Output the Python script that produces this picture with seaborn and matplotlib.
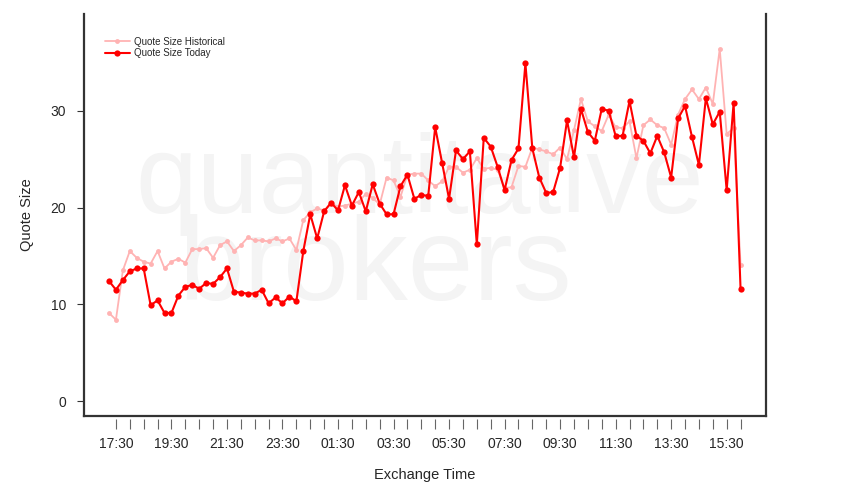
import matplotlib
matplotlib.use("Agg")
import matplotlib.pyplot as plt
import pandas as pd
import seaborn as sns

# Quote sizes every 15 minutes, 17:15 to 16:00 next day
start = "2014-01-06 17:15"
today = [12.4, 11.5, 12.5, 13.4, 13.7, 13.7, 9.9, 10.4, 9.1, 9.1,
         10.9, 11.8, 12.0, 11.6, 12.2, 12.1, 12.8, 13.7, 11.3, 11.2,
         11.1, 11.1, 11.5, 10.1, 10.7, 10.1, 10.8, 10.3, 15.5, 19.3,
         16.8, 19.6, 20.5, 19.7, 22.3, 20.2, 21.6, 19.6, 22.4, 20.4,
         19.3, 19.3, 22.2, 23.4, 20.9, 21.3, 21.2, 28.3, 24.6, 20.9,
         25.9, 25.0, 25.8, 16.2, 27.2, 26.3, 24.2, 21.8, 24.9, 26.1,
         34.9, 26.1, 23.1, 21.5, 21.6, 24.1, 29.0, 25.2, 30.2, 27.8,
         26.9, 30.2, 30.0, 27.4, 27.4, 31.0, 27.4, 26.9, 25.6, 27.4,
         25.7, 23.1, 29.2, 30.5, 27.3, 24.4, 31.3, 28.6, 29.9, 21.8,
         30.8, 11.6]
historical = [9.1, 8.4, 13.5, 15.5, 14.8, 14.4, 14.2, 15.5, 13.7, 14.4,
              14.7, 14.3, 15.7, 15.7, 15.8, 14.8, 16.1, 16.5, 15.5, 16.1,
              16.9, 16.6, 16.6, 16.5, 16.8, 16.5, 16.8, 15.6, 18.7, 19.5,
              19.9, 19.7, 20.4, 20.1, 20.2, 20.4, 20.6, 21.4, 21.0, 20.3,
              23.1, 22.8, 21.1, 23.4, 23.5, 23.5, 22.8, 22.2, 22.7, 24.2,
              24.2, 23.6, 23.9, 25.1, 24.0, 24.1, 23.9, 22.0, 22.1, 24.3,
              24.2, 26.2, 26.0, 25.8, 25.5, 26.2, 25.0, 28.0, 31.2, 28.9,
              28.4, 27.9, 29.6, 28.3, 28.2, 28.9, 25.1, 28.5, 29.1, 28.5,
              28.2, 26.5, 29.6, 31.2, 32.2, 31.2, 32.4, 30.7, 36.4, 27.6,
              28.2, 14.1]
y_ticks = [0, 10, 20, 30]

times = pd.date_range(start, periods=len(today), freq="15min")
df = pd.DataFrame({"time": times, "Quote Size Historical": historical,
                   "Quote Size Today": today})

sns.set_style("white")
plt.rcParams["font.family"] = ["Liberation Sans", "DejaVu Sans"]

fig = plt.figure(figsize=(8.5, 5), dpi=100)
ax = fig.add_axes([84 / 850, 84 / 500, 682 / 850, 402 / 500])

# watermark, behind the lines
ax.text(0.494, 0.575, "quantitative", fontsize=80, color="#f4f4f4",
        ha="center", va="baseline", zorder=0, transform=fig.transFigure)
ax.text(0.441, 0.40, "brokers", fontsize=85, color="#f4f4f4",
        ha="center", va="baseline", zorder=0, transform=fig.transFigure)

sns.lineplot(data=df, x="time", y="Quote Size Historical", ax=ax, color="#ffb3b3",
             marker="o", markersize=3.5, markeredgewidth=0, linewidth=1.3,
             label="Quote Size Historical", zorder=3)
sns.lineplot(data=df, x="time", y="Quote Size Today", ax=ax, color="#ff0000",
             marker="o", markersize=4.5, markeredgewidth=0, linewidth=1.5,
             label="Quote Size Today", zorder=4)

ax.set_ylim(-1.55, 40)
ax.set_xlim(times[0] - pd.Timedelta(minutes=54), times[0] + pd.Timedelta(minutes=1420))
ax.set_yticks(y_ticks)
ax.set_yticklabels([str(v) for v in y_ticks])

xt = pd.date_range(times[1], times[-1], freq="30min")
ax.set_xticks(xt)
ax.set_xticklabels([t.strftime("%H:%M") if i % 4 == 0 else "" for i, t in enumerate(xt)])

for s in ["left", "right"]:
    ax.spines[s].set_color("#333333")
    ax.spines[s].set_linewidth(1.6)
ax.spines["top"].set_visible(False)
ax.spines["bottom"].set_visible(False)
ax.spines["bottom"].set_position(("outward", 2))
ax.plot([0, 1], [0, 0], transform=ax.transAxes, color="#333333", lw=1.6,
        clip_on=False, solid_capstyle="projecting")

ax.tick_params(axis="x", direction="out", length=7, width=0.8, color="#666666",
               pad=6, labelsize=10, bottom=True)
ax.tick_params(axis="y", direction="out", length=5, width=0.8, color="#333333",
               pad=8, labelsize=10, left=True)

ax.set_xlabel("Exchange Time", fontsize=10.5, labelpad=12)
ax.set_ylabel("Quote Size", fontsize=10.5, labelpad=12)

ax.legend(loc="upper left", bbox_to_anchor=(96 / 850, 1 - 28 / 500),
          bbox_transform=fig.transFigure, frameon=False, fontsize=7,
          handlelength=2.6, handletextpad=0.4, labelspacing=0.15)

fig.savefig("out.png", dpi=100)
